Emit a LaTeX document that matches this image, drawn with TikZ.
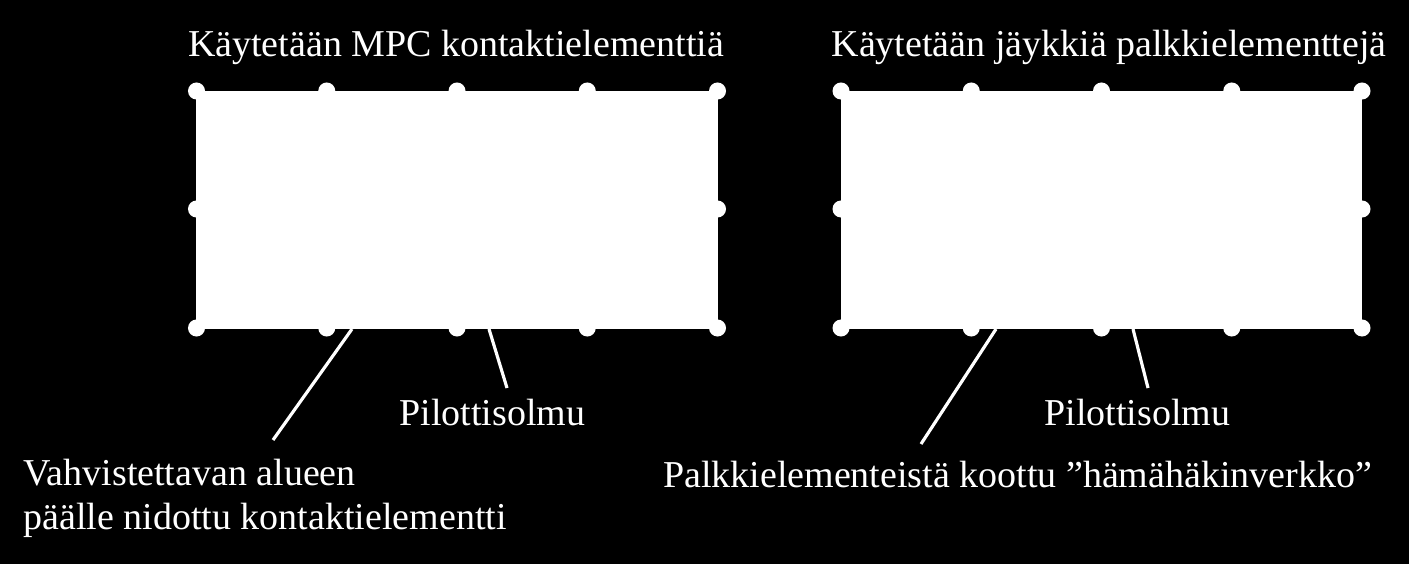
\documentclass[tikz,border=0pt]{standalone}
\usepackage{fontspec}
\setmainfont{Liberation Serif}
\def\dotgap{130.25}

\begin{document}
\begin{tikzpicture}[x=0.01cm,y=-0.01cm,line width=0.9pt]
        \tikzstyle{panel}=[rectangle,fill=white,minimum width=5.21cm,minimum height=2.38cm,inner sep=0pt]
        \tikzstyle{dot}=[circle,fill=white,minimum size=0.17cm,inner sep=0pt]
        \tikzstyle{annot}=[text=white,font=\fontsize{10.8}{12.4}\selectfont,inner sep=0pt]
        \tikzstyle{leader}=[draw=white]

        % Black background, fixes the size too
        \fill[black] (0,0) rectangle (1409,564);

        % The two meshes
        \node[panel] (mpc) at (457,210) {};
        \node[panel] (web) at (1101.5,210) {};

        % Nodes round the edges
        \foreach \p/\cx in {mpc/457, web/1101.5}
            \foreach \i in {0,...,4}
            {
                \node[dot] (\p-t\i) at ({\cx+(\i-2)*\dotgap},91) {};
                \node[dot] (\p-b\i) at ({\cx+(\i-2)*\dotgap},328) {};
            }
        \foreach \p/\cx in {mpc/457, web/1101.5}
        {
            \node[dot] (\p-l) at ({\cx-2*\dotgap},209) {};
            \node[dot] (\p-r) at ({\cx+2*\dotgap},209) {};
        }

        % Titles
        \node[annot,anchor=base] (mpc-title) at (456,57) {Käytetään MPC kontaktielementtiä};
        \node[annot,anchor=base] (web-title) at (1109,57) {Käytetään jäykkiä palkkielementtejä};

        % Callouts below
        \node[annot,anchor=base] (mpc-pilot) at (492.5,425) {Pilottisolmu};
        \node[annot,anchor=base] (web-pilot) at (1137.5,425) {Pilottisolmu};
        \node[annot,anchor=north west,align=left] (mpc-note) at (22,458)
            {Vahvistettavan alueen\\päälle nidottu kontaktielementti};
        \node[annot,anchor=base] (web-note) at (1017.5,487) {Palkkielementeistä koottu ”hämähäkinverkko”};

        % Leader lines
        \coordinate (mpc-a) at (352,329);
        \coordinate (mpc-a2) at (273,440);
        \coordinate (mpc-c) at (489,329);
        \coordinate (mpc-c2) at (507,388);
        \coordinate (web-a) at (996,329);
        \coordinate (web-a2) at (921,444);
        \coordinate (web-c) at (1133,329);
        \coordinate (web-c2) at (1148,388);
        \draw[leader] (mpc-a) -- (mpc-a2);
        \draw[leader] (mpc-c) -- (mpc-c2);
        \draw[leader] (web-a) -- (web-a2);
        \draw[leader] (web-c) -- (web-c2);
\end{tikzpicture}
\end{document}
